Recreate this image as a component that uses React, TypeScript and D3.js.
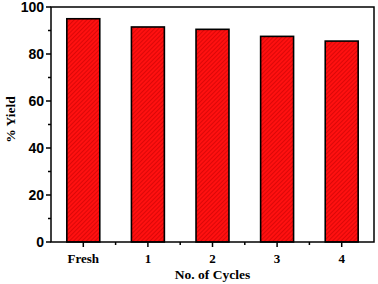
import React from "react";
import { scaleBand, scaleLinear, range } from "d3";

const categories = ["Fresh", "1", "2", "3", "4"];
const yields = [95, 91.5, 90.5, 87.5, 85.5];
const yTicks = [0, 20, 40, 60, 80, 100];
const yMinorTicks = [10, 30, 50, 70, 90];

const W = 378;
const H = 284;
const margin = { top: 7, right: 4, bottom: 42, left: 51 };

const App = () => {
  const x = scaleBand<string>()
    .domain(categories)
    .range([margin.left, W - margin.right])
    .paddingInner(0.49)
    .paddingOuter(0.245);

  const y = scaleLinear()
    .domain([0, 100])
    .range([H - margin.bottom, margin.top]);

  const x0 = margin.left;
  const x1 = W - margin.right;
  const y0 = y(0);
  const y1 = y(100);

  // band edges for minor ticks on the x axis
  const step = x.step();
  const xMinor = range(1, categories.length).map(
    i => (x(categories[i]) as number) + x.bandwidth() / 2 - step / 2
  );

  return (
    <svg
      width={W}
      height={H}
      style={{ position: "absolute", left: 0, top: 0, background: "#fff" }}
    >
      <defs>
        <pattern
          id="hatch"
          patternUnits="userSpaceOnUse"
          width={3}
          height={3}
          patternTransform="rotate(45)"
        >
          <rect width={3} height={3} fill="#ff1010" />
          <line x1={0} y1={0} x2={0} y2={3} stroke="#b80000" strokeWidth={1} />
        </pattern>
      </defs>

      {/* bars */}
      {categories.map((c, i) => (
        <rect
          key={c}
          x={x(c)}
          y={y(yields[i])}
          width={x.bandwidth()}
          height={y0 - y(yields[i])}
          fill="url(#hatch)"
          stroke="#000"
          strokeWidth={1.6}
        />
      ))}

      {/* frame */}
      <rect
        x={x0}
        y={y1}
        width={x1 - x0}
        height={y0 - y1}
        fill="none"
        stroke="#000"
        strokeWidth={1.5}
      />

      {/* y axis ticks */}
      {yTicks.map(t => (
        <g key={t}>
          <line x1={x0 - 5} x2={x0} y1={y(t)} y2={y(t)} stroke="#000" strokeWidth={1.5} />
          <text
            x={x0 - 7}
            y={y(t)}
            dy="0.36em"
            textAnchor="end"
            fontFamily="Liberation Sans, Arial, sans-serif"
            fontWeight="bold"
            fontSize={14}
          >
            {t}
          </text>
        </g>
      ))}
      {yMinorTicks.map(t => (
        <line key={t} x1={x0 - 3} x2={x0} y1={y(t)} y2={y(t)} stroke="#000" strokeWidth={1.5} />
      ))}

      {/* x axis ticks */}
      {categories.map(c => {
        const cx = (x(c) as number) + x.bandwidth() / 2;
        return (
          <g key={c}>
            <line x1={cx} x2={cx} y1={y0} y2={y0 + 5} stroke="#000" strokeWidth={1.5} />
            <text
              x={cx}
              y={263}
              textAnchor="middle"
              fontFamily="Liberation Serif, Times New Roman, serif"
              fontWeight="bold"
              fontSize={13}
            >
              {c}
            </text>
          </g>
        );
      })}
      {xMinor.map((m, i) => (
        <line key={i} x1={m} x2={m} y1={y0} y2={y0 + 3} stroke="#000" strokeWidth={1.5} />
      ))}

      {/* axis titles */}
      <text
        x={(x0 + x1) / 2}
        y={279}
        textAnchor="middle"
        fontFamily="Liberation Serif, Times New Roman, serif"
        fontWeight="bold"
        fontSize={13.5}
      >
        No. of Cycles
      </text>
      <text
        transform={`translate(15, ${(y0 + y1) / 2 - 5}) rotate(-90)`}
        textAnchor="middle"
        fontFamily="Liberation Serif, Times New Roman, serif"
        fontWeight="bold"
        fontSize={13.5}
      >
        % Yield
      </text>
    </svg>
  );
};

export default App;
